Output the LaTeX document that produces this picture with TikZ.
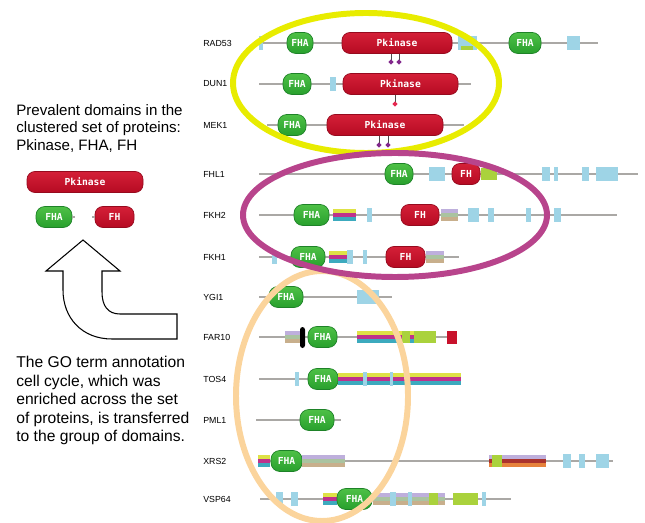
\documentclass[tikz,border=0pt]{standalone}
\usepackage{fontspec}
\setmainfont{Liberation Sans}
\newfontfamily\domfont{DejaVu Sans Mono}
\usetikzlibrary{shapes.geometric}

\definecolor{fhagreen}{RGB}{58,178,58}
\definecolor{fhatop}{RGB}{78,192,70}
\definecolor{fhabot}{RGB}{40,160,45}
\definecolor{fhaedge}{RGB}{30,130,40}
\definecolor{pkred}{RGB}{200,18,44}
\definecolor{pktop}{RGB}{212,32,56}
\definecolor{pkbot}{RGB}{182,10,34}
\definecolor{pkedge}{RGB}{150,10,30}
\definecolor{boxblue}{RGB}{158,212,230}
\definecolor{stripey}{RGB}{222,226,70}
\definecolor{stripem}{RGB}{190,50,140}
\definecolor{stripec}{RGB}{60,170,190}
\definecolor{stripel}{RGB}{190,175,220}
\definecolor{stripeg}{RGB}{170,195,160}
\definecolor{stripet}{RGB}{200,175,140}
\definecolor{limegreen}{RGB}{170,210,60}
\definecolor{darkred}{RGB}{170,50,45}
\definecolor{orangestripe}{RGB}{230,130,60}
\definecolor{ringyellow}{RGB}{232,236,0}
\definecolor{ringmagenta}{RGB}{184,68,140}
\definecolor{ringorange}{RGB}{251,212,156}
\definecolor{pinpurple}{RGB}{130,40,140}
\definecolor{pinred}{RGB}{230,40,80}
\definecolor{backgray}{RGB}{170,168,165}

\tikzset{
  backbone/.style={draw=backgray, line width=1.7pt},
  fha/.style={draw=fhaedge, top color=fhatop, bottom color=fhabot, rounded corners=5pt,
    minimum height=0.42cm, inner sep=0pt, text=white,
    font=\domfont\bfseries\fontsize{5.5}{6}\selectfont},
  pk/.style={fha, draw=pkedge, top color=pktop, bottom color=pkbot, rounded corners=4.5pt},
  plabel/.style={anchor=west, inner sep=0pt, font=\fontsize{5}{6}\selectfont},
  stalk/.style={draw=black!70, line width=0.5pt},
  pdot/.style={diamond, inner sep=0pt, minimum size=3.2pt},
  ring/.style={line width=3.4pt},
}

% domain node: style, name, x1, x2, y, text
\newcommand{\pdom}[6]{\node[#1, minimum width={(#4-#3)*0.02cm}] (#2) at ({(#3+#4)/2},#5) {#6};}
% small blue box: x1, x2, y
\newcommand{\pbox}[3]{\fill[boxblue] (#1,#3-7) rectangle (#2,#3+7);}
% striped box: x1, x2, y, three colours
\newcommand{\pstripe}[6]{\fill[#4] (#1,#3-6) rectangle (#2,#3-2);
  \fill[#5] (#1,#3-2) rectangle (#2,#3+2);
  \fill[#6] (#1,#3+2) rectangle (#2,#3+6);}

\begin{document}
\begin{tikzpicture}[x=0.02cm, y=-0.02cm]
\useasboundingbox (0,0) rectangle (645,523);

% left side
\node[anchor=north west, align=left, inner sep=0pt, font=\fontsize{8.6}{10}\selectfont]
  (top) at (16,104) {Prevalent domains in the\\clustered set of proteins:\\Pkinase, FHA, FH};
\pdom{pk}{lpk}{27}{143}{182}{Pkinase}
\pdom{fha}{lfha}{36}{72}{217}{FHA}
\pdom{pk}{lfh}{95}{134}{217}{FH}
\draw[backbone] (lfha.east) -- ++(3,0);
\draw[backbone] (lfh.west) -- ++(-3,0);

\draw[fill=white, line width=0.6pt] (83,240) -- (120,271) -- (102,271) -- (102,292)
  .. controls (102,306) and (108,314) .. (120,314) -- (177,314) -- (177,339) -- (112,339)
  .. controls (82,339) and (63,318) .. (63,290) -- (63,271) -- (46,271) -- cycle;

\node[anchor=north west, align=left, inner sep=0pt, font=\fontsize{8.9}{10.5}\selectfont]
  (bottom) at (16,356) {The GO term annotation\\cell cycle, which was\\enriched across the set\\of proteins, is transferred\\to the group of domains.};

% RAD53
\node[plabel] (lrad) at (203,43) {RAD53};
\draw[backbone] (259,43) -- (598,43);
\pbox{259}{263}{43}
\pdom{fha}{rad1}{287}{313}{43}{FHA}
\pdom{pk}{radk}{342}{452}{43}{Pkinase}
\pbox{458}{477}{43}
\fill[limegreen] (461,46) rectangle (473,50);
\pdom{fha}{rad2}{509}{541}{43}{FHA}
\pbox{567}{580}{43}
\draw[stalk] (391,54) -- (391,62) node[pdot, fill=pinpurple] (rp1) {};
\draw[stalk] (399,54) -- (399,62) node[pdot, fill=pinpurple] (rp2) {};

% DUN1
\node[plabel] (ldun) at (203,84) {DUN1};
\draw[backbone] (259,84) -- (471,84);
\pdom{fha}{dun1}{283}{311}{84}{FHA}
\pbox{330}{336}{84}
\pdom{pk}{dunk}{343}{458}{84}{Pkinase}
\draw[stalk] (395,95) -- (395,104) node[pdot, fill=pinred] (dp1) {};

% MEK1
\node[plabel] (lmek) at (203,125) {MEK1};
\draw[backbone] (267,125) -- (464,125);
\pdom{fha}{mek1}{278}{306}{125}{FHA}
\pdom{pk}{mekk}{327}{443}{125}{Pkinase}
\draw[stalk] (379,136) -- (379,145) node[pdot, fill=pinpurple] (mp1) {};
\draw[stalk] (388,136) -- (388,145) node[pdot, fill=pinpurple] (mp2) {};

% FHL1
\node[plabel] (lfhl) at (203,174) {FHL1};
\draw[backbone] (259,174) -- (638,174);
\pdom{fha}{fhl1}{385}{413}{174}{FHA}
\pbox{429}{445}{174}
\pdom{pk}{fhl2}{452}{480}{174}{FH}
\fill[limegreen] (481,168) rectangle (497,180);
\pbox{542}{550}{174}
\pbox{554}{558}{174}
\pbox{582}{589}{174}
\pbox{596}{618}{174}

% FKH2
\node[plabel] (lfk2) at (203,215) {FKH2};
\draw[backbone] (259,215) -- (617,215);
\pdom{fha}{fk21}{294}{329}{215}{FHA}
\pstripe{333}{356}{215}{stripey}{stripem}{stripec}
\pbox{367}{372}{215}
\pdom{pk}{fk22}{401}{439}{215}{FH}
\pstripe{441}{458}{215}{stripel}{stripeg}{stripet}
\pbox{468}{479}{215}
\pbox{488}{494}{215}
\pbox{526}{531}{215}
\pbox{554}{561}{215}

% FKH1
\node[plabel] (lfk1) at (203,257) {FKH1};
\draw[backbone] (259,257) -- (459,257);
\fill[boxblue] (272,253) rectangle (277,264);
\pdom{fha}{fk11}{291}{325}{257}{FHA}
\pstripe{329}{347}{257}{stripey}{stripem}{stripec}
\pbox{347}{353}{257}
\pbox{363}{367}{257}
\pdom{pk}{fk12}{386}{425}{257}{FH}
\pstripe{426}{444}{257}{stripel}{stripeg}{stripet}

% YGI1
\node[plabel] (lygi) at (203,297) {YGI1};
\draw[backbone] (259,297) -- (392,297);
\pdom{fha}{ygi1}{269}{303}{297}{FHA}
\pbox{357}{379}{297}

% FAR10
\node[plabel] (lfar) at (203,337) {FAR10};
\draw[backbone] (259,337) -- (457,337);
\pstripe{285}{300}{337}{stripel}{stripeg}{stripet}
\fill[black, rounded corners=1.5pt] (300,327) rectangle (305,348);
\pdom{fha}{far1}{308}{337}{337}{FHA}
\pstripe{357}{402}{337}{stripey}{stripem}{stripec}
\fill[limegreen] (402,331) rectangle (436,343);
\pstripe{410}{414}{337}{stripey}{stripem}{stripec}
\fill[pkred] (447,331) rectangle (457,344);

% TOS4
\node[plabel] (ltos) at (203,379) {TOS4};
\draw[backbone] (259,379) -- (461,379);
\pbox{295}{299}{379}
\pdom{fha}{tos1}{308}{338}{379}{FHA}
\pstripe{338}{461}{379}{stripey}{stripem}{stripec}
\pbox{363}{367}{379}
\pbox{390}{393}{379}

% PML1
\node[plabel] (lpml) at (203,420) {PML1};
\draw[backbone] (256,420) -- (341,420);
\pdom{fha}{pml1}{300}{334}{420}{FHA}

% XRS2
\node[plabel] (lxrs) at (203,461) {XRS2};
\draw[backbone] (258,461) -- (613,461);
\pstripe{258}{270}{461}{stripey}{stripem}{stripec}
\pdom{fha}{xrs1}{271}{302}{461}{FHA}
\pstripe{302}{345}{461}{stripel}{stripeg}{stripet}
\pstripe{489}{546}{461}{stripel}{darkred}{orangestripe}
\fill[limegreen] (492,455) rectangle (502,467);
\pbox{563}{571}{461}
\pbox{579}{585}{461}
\pbox{596}{609}{461}

% VSP64
\node[plabel] (lvsp) at (203,499) {VSP64};
\draw[backbone] (260,499) -- (511,499);
\pbox{276}{283}{499}
\pbox{291}{298}{499}
\pstripe{323}{337}{499}{stripey}{stripem}{stripec}
\pdom{fha}{vsp1}{337}{372}{499}{FHA}
\pstripe{373}{445}{499}{stripel}{stripeg}{stripet}
\pbox{390}{396}{499}
\pbox{408}{412}{499}
\fill[limegreen] (429,493) rectangle (438,505);
\fill[limegreen] (453,493) rectangle (478,505);
\pbox{482}{486}{499}

% clusters
\draw[ring, ringorange] (322,396) ellipse [x radius=86, y radius=125];
\draw[ring, ringyellow] (366,83) ellipse [x radius=133, y radius=70];
\draw[ring, ringmagenta] (395,215) ellipse [x radius=152, y radius=62];

\end{tikzpicture}
\end{document}
